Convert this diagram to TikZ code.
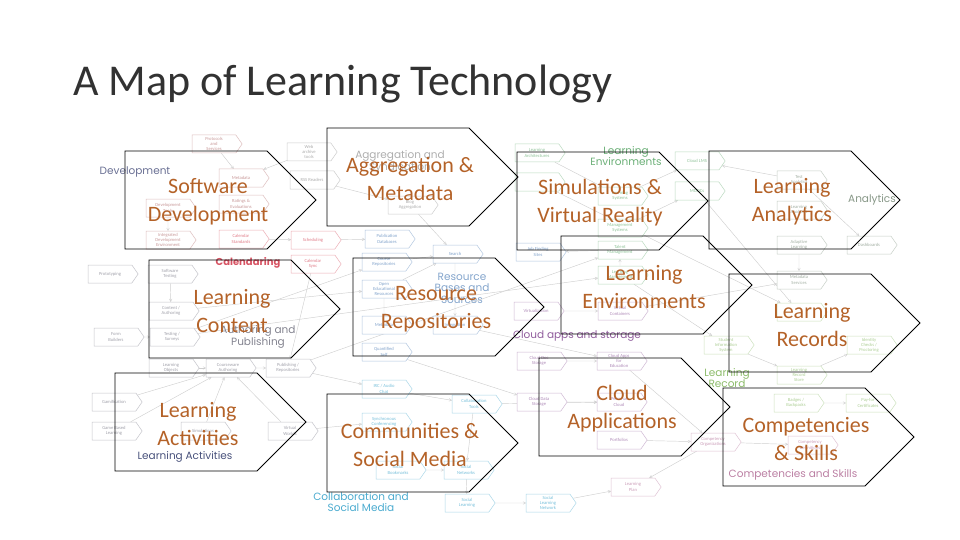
\documentclass[tikz,border=0pt]{standalone}
\usepackage{fontspec}
\setmainfont{Carlito}
\newfontfamily\catfont{Poppins}
\usetikzlibrary{shapes.symbols,arrows.meta}
\pgfdeclarelayer{background}
\pgfsetlayers{background,main}
\definecolor{chevc}{RGB}{180,98,40}
\definecolor{titlec}{RGB}{50,50,50}
\definecolor{devc}{RGB}{165,85,85}
\definecolor{calc}{RGB}{205,40,60}
\definecolor{autc}{RGB}{100,100,115}
\definecolor{agc}{RGB}{120,120,120}
\definecolor{resc}{RGB}{50,105,170}
\definecolor{envc}{RGB}{70,155,85}
\definecolor{cldc}{RGB}{125,65,140}
\definecolor{colc}{RGB}{30,150,195}
\definecolor{cmpc}{RGB}{170,95,140}
\definecolor{anac}{RGB}{105,125,105}
\definecolor{lrc}{RGB}{120,175,80}
\definecolor{actc}{RGB}{40,50,100}
\tikzset{
  chevline/.style={draw=black, line width=0.8pt},
  chevtext/.style={text=chevc, align=center, inner sep=0pt, font=\fontsize{22}{28}\selectfont},
  bgb/.style={shape=signal, signal to=east, signal pointer angle=110, minimum width=50pt,
    minimum height=18pt, inner sep=0.5pt, align=center, fill=white,
    font=\fontsize{4.6}{5.2}\selectfont, line width=0.5pt},
  cat/.style={align=center, inner sep=0pt, font=\catfont\fontsize{10.5}{11.5}\selectfont},
  link/.style={draw=gray!38, line width=0.45pt, -{To[length=3pt,width=3pt]}},
}
\newcommand\bb[5]{\node[bgb, draw=#4!38, text=#4!60] (#1) at (#2,#3) {#5};}
\newcommand\chev[4]{%
  \draw[chevline] (#2,#3) -- ++(142,0) -- ++(49,49) -- ++(-49,49) -- ++(-142,0) -- cycle;
  \node[chevtext] (#1) at (#2+83,#3+51) {#4};}
\begin{document}
\begin{tikzpicture}[x=1pt,y=-1pt]
\useasboundingbox (0,0) rectangle (960,540);
\node[anchor=base west, inner sep=0pt, text=titlec, font=\fontsize{44}{50}\selectfont] (title) at (73,96) {A Map of Learning Technology};

% ---- background map: development
\bb{d1}{214}{144}{devc}{Protocols\\and\\Services}
\bb{d2}{241}{178}{devc}{Metadata}
\bb{d3}{241}{204}{devc}{Ratings \&\\Evaluations}
\bb{d4}{168}{208}{devc}{Development\\Tools}
\bb{d5}{168}{240}{devc}{Integrated\\Development\\Environment}
\bb{d6}{241}{239}{calc}{Calendar\\Standards}
\bb{d7}{309}{152}{agc}{Web\\archive\\tools}
\bb{d8}{312}{180}{agc}{RSS Readers}
\bb{d9}{313}{240}{calc}{Scheduling}
\bb{d10}{313}{264}{calc}{Calendar\\Sync}
\node[cat, text=actc!70] (ldev) at (135,172) {Development};
\node[cat, text=calc!80, font=\catfont\bfseries\fontsize{10}{11}\selectfont] (lcal) at (248,263) {Calendaring};
% authoring
\bb{a1}{110}{274}{autc}{Prototyping}
\bb{a2}{170}{274}{autc}{Software\\Testing}
\bb{a3}{171}{311}{autc}{Content /\\Authoring}
\bb{a4}{116}{337}{autc}{Form\\Builders}
\bb{a5}{172}{337}{autc}{Testing /\\Surveys}
\bb{a6}{171}{368}{autc}{Learning\\Objects}
\bb{a7}{228}{368}{autc}{Courseware\\Authoring}
\bb{a8}{288}{368}{autc}{Publishing /\\Repositories}
\node[cat, text=autc!80] (laut) at (258,337) {Authoring and\\Publishing};
% activities
\bb{g1}{114}{402}{autc}{Gamification}
\bb{g2}{114}{431}{autc}{Game Based\\Learning}
\bb{g3}{203}{431}{autc}{Simulations}
\bb{g4}{290}{431}{autc}{Virtual\\Worlds}
\node[cat, text=actc!85] (lact) at (185,457) {Learning Activities};
% aggregation
\bb{ag1}{410}{205}{agc}{Blog\\Aggregation}
\node[cat, text=agc!60] (lagg) at (400,162) {Aggregation and\\Syndication};
% resources
\bb{r1}{387}{239}{resc}{Publication\\Databases}
\bb{r2}{455}{254}{resc}{Search}
\bb{r3}{384}{262}{resc}{Course\\Repositories}
\bb{r4}{384}{289}{resc}{Open\\Educational\\Resources}
\bb{r5}{384}{325}{resc}{Metadata}
\bb{r6}{455}{325}{resc}{Integration}
\bb{r7}{384}{352}{resc}{Quantified\\Self}
\node[cat, text=resc!60] (lres) at (462,288) {Resource\\Bases and\\Sources};
% environments
\bb{e1}{537}{153}{envc}{Learning\\Architectures}
\bb{e2}{537}{182}{envc}{}
\bb{e3}{620}{196}{envc}{Learning\\Systems}
\bb{e4}{620}{228}{envc}{Management\\Systems}
\bb{e5}{620}{250}{envc}{Talent\\Management}
\bb{e6}{620}{275}{envc}{Learning\\Management}
\bb{e7}{697}{161}{envc}{Cloud LMS}
\bb{e8}{697}{191}{envc}{MOOCs}
\bb{e9}{538}{252}{resc}{Job Finding\\Sites}
\node[cat, text=envc!80] (lenv) at (626,156) {Learning\\Environments};
% cloud
\bb{c1}{536}{311}{cldc}{Virtualization}
\bb{c2}{620}{311}{cldc}{Virtual\\Containers}
\node[cat, text=cldc!85] (lcld) at (577,336) {Cloud apps and storage};
\bb{c3}{539}{361}{cldc}{Cloud Doc\\Storage}
\bb{c4}{619}{361}{cldc}{Cloud Apps\\for\\Education}
\bb{c5}{539}{402}{cldc}{Cloud Data\\Storage}
\bb{c6}{619}{402}{cldc}{Personal\\Cloud}
\bb{c7}{619}{440}{cldc}{Portfolios}
\bb{c8}{633}{487}{cmpc}{Learning\\Plan}
% collaboration
\bb{s1}{384}{389}{colc}{IRC / Audio\\Chat}
\bb{s2}{384}{422}{colc}{Synchronous\\Conferencing}
\bb{s3}{474}{404}{colc}{Collaboration\\Tools}
\bb{s4}{398}{470}{colc}{Social\\Bookmarks}
\bb{s5}{466}{470}{colc}{Social\\Networks}
\bb{s6}{467}{503}{colc}{Social\\Learning}
\bb{s7}{548}{503}{colc}{Social\\Learning\\Network}
\node[cat, text=colc!80] (lcol) at (361,502) {Collaboration and\\Social Media};
% competencies
\bb{k1}{713}{442}{cmpc}{Competency\\Organizations}
\bb{k2}{810}{445}{cmpc}{Competency\\Definitions}
\node[cat, text=cmpc!80] (lcmp) at (793,475) {Competencies and Skills};
% records
\bb{l1}{726}{345}{lrc}{Student\\Information\\System}
\bb{l2}{799}{280}{anac}{Metadata\\Services}
\bb{l3}{799}{312}{lrc}{}
\bb{l4}{799}{375}{lrc}{Learning\\Record\\Store}
\bb{l5}{869}{345}{lrc}{Identity\\Checks /\\Proctoring}
\bb{l6}{796}{403}{lrc}{Badges /\\Backpacks}
\bb{l7}{868}{403}{lrc}{Pay-for\\Certificates}
\node[cat, text=lrc!85] (lrec) at (727,378) {Learning\\Record};
% analytics
\bb{n1}{799}{180}{anac}{Test\\Analytics}
\bb{n2}{799}{210}{anac}{Learning\\Analytics}
\bb{n3}{799}{245}{anac}{Adaptive\\Learning}
\bb{n4}{869}{245}{anac}{Dashboards}
\node[cat, text=anac!80] (lana) at (872,200) {Analytics};

\begin{pgfonlayer}{background}
\draw[link] (d1) -- (d2);
\draw[link] (d7) -- (d2);
\draw[link] (d4) -- (d5);
\draw[link] (d8) -- (ag1);
\draw[link] (d6) -- (d9);
\draw[link] (d9) -- (r1);
\draw[link] (d10) -- (a8);
\draw[link] (a2) -- (a3);
\draw[link] (a4) -- (a5);
\draw[link] (a6) -- (a7);
\draw[link] (a7) -- (a8);
\draw[link] (g1) -- (a7);
\draw[link] (g2) -- (a7);
\draw[link] (g3) -- (a7);
\draw[link] (g4) -- (a7);
\draw[link] (a8) -- (e5);
\draw[link] (a3) -- (r4);
\draw[link] (a5) -- (r3);
\draw[link] (g4) -- (s2);
\draw[link] (a8) -- (s1);
\draw[link] (r3) -- (r2);
\draw[link] (r4) -- (r2);
\draw[link] (r2) -- (r6);
\draw[link] (r4) -- (r5);
\draw[link] (r7) -- (c5);
\draw[link] (ag1) -- (r2);
\draw[link] (e5) -- (e9);
\draw[link] (e6) -- (e5);
\draw[link] (e3) -- (e7);
\draw[link] (e4) -- (e8);
\draw[link] (e1) -- (e3);
\draw[link] (c1) -- (c2);
\draw[link] (c3) -- (c4);
\draw[link] (c5) -- (c6);
\draw[link] (c7) -- (k1);
\draw[link] (s3) -- (c6);
\draw[link] (s3) -- (s5);
\draw[link] (s1) -- (s3);
\draw[link] (s4) -- (s5);
\draw[link] (s5) -- (s6);
\draw[link] (s6) -- (s7);
\draw[link] (k1) -- (c8);
\draw[link] (s7) -- (c8);
\draw[link] (k1) -- (k2);
\draw[link] (l6) -- (l7);
\draw[link] (l1) -- (l4);
\draw[link] (n1) -- (n4);
\draw[link] (n1) -- (e7);
\draw[link] (e6) -- (l1);
\draw[link] (e8) -- (l3);
\draw[link] (e2) -- (l3);
\draw[link] (c2) -- (l2);
\draw[link] (c4) -- (k1);
\draw[link] (a5) -- (e6);
\draw[link] (r6) -- (c4);
\draw[link] (l4) -- (l5);
\draw[link] (n3) -- (l2);
\end{pgfonlayer}

% ---- overlay chevrons
\chev{sw}{125}{151}{Software\\Development}
\chev{agg}{327}{128}{Aggregation \&\\Metadata}
\chev{sim}{517}{152}{Simulations \&\\Virtual Reality}
\chev{ana}{709}{151}{Learning\\Analytics}
\chev{lc}{149}{260}{Learning\\Content}
\chev{rr}{353}{258}{Resource\\Repositories}
\chev{le}{561}{236}{Learning\\Environments}
\chev{lr}{729}{274}{Learning\\Records}
\chev{la}{115}{373}{Learning\\Activities}
\chev{cs}{327}{394}{Communities \&\\Social Media}
\chev{ca}{539}{358}{Cloud\\Applications}
\chev{cmp}{723}{388}{Competencies\\\& Skills}
\end{tikzpicture}
\end{document}
